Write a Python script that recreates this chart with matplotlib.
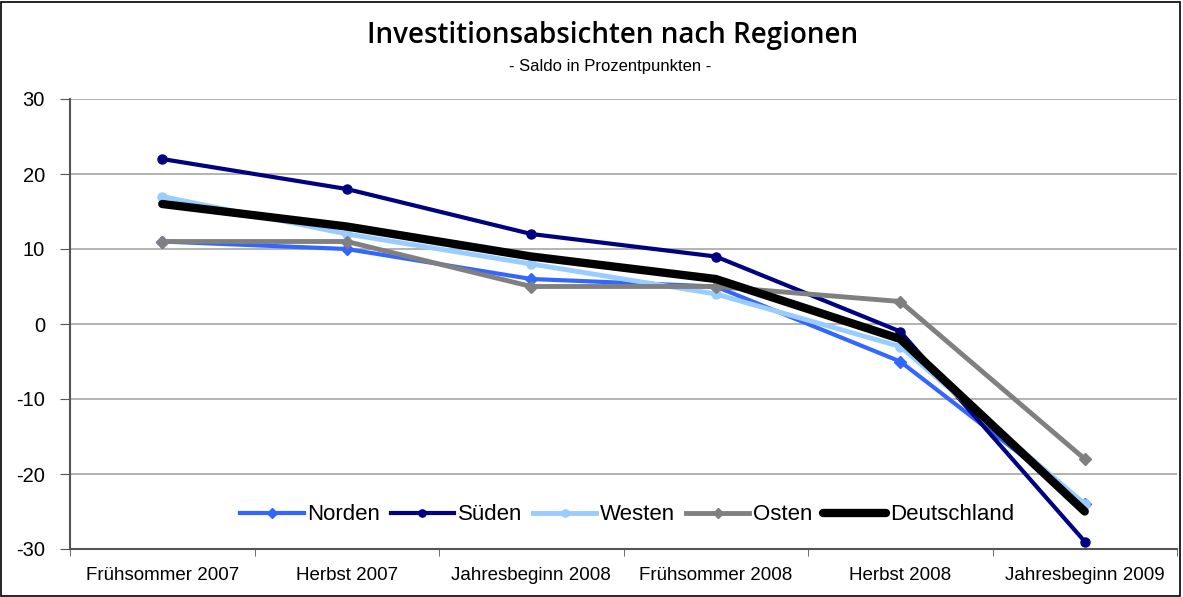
import matplotlib
matplotlib.use("Agg")
import matplotlib.pyplot as plt
from matplotlib.patches import Rectangle

categories = ["Frühsommer 2007", "Herbst 2007", "Jahresbeginn 2008",
              "Frühsommer 2008", "Herbst 2008", "Jahresbeginn 2009"]
norden = [11, 10, 6, 5, -5, -24]
sueden = [22, 18, 12, 9, -1, -29]
westen = [17, 12, 8, 4, -3, -24]
osten = [11, 11, 5, 5, 3, -18]
deutschland = [16, 13, 9, 6, -2, -25]
y_ticks = [-30, -20, -10, 0, 10, 20, 30]

plt.rcParams['font.family'] = ['Liberation Sans', 'DejaVu Sans']

fig = plt.figure(figsize=(11.83, 5.97), dpi=100)
ax = fig.add_axes([70/1183, 48/597, 1107/1183, 450/597])

x = list(range(len(categories)))
ax.plot(x, norden, color='#3366FF', lw=3, marker='D', ms=6, label='Norden', zorder=3)
ax.plot(x, sueden, color='#000080', lw=3, marker='o', ms=6.5, label='Süden', zorder=3)
ax.plot(x, westen, color='#99CCFF', lw=3.5, marker='o', ms=6.5, label='Westen', zorder=3)
ax.plot(x, osten, color='#808080', lw=3.5, marker='D', ms=6, label='Osten', zorder=3)
ax.plot(x, deutschland, color='black', lw=6, solid_capstyle='round', label='Deutschland', zorder=4)

ax.set_xlim(-0.5, len(categories) - 0.5)
ax.set_ylim(-30, 30)
ax.set_yticks(y_ticks)
ax.set_yticklabels([str(v) for v in y_ticks], fontsize=14.5)
ax.yaxis.grid(True, color='#A6A6A6', lw=1.2)
ax.set_axisbelow(True)

ax.set_xticks(x)
ax.set_xticklabels(categories, fontsize=13.5)
ax.tick_params(axis='x', length=0, pad=13)
ax.set_xticks([i - 0.5 for i in range(len(categories) + 1)], minor=True)
ax.tick_params(axis='x', which='minor', length=5, color='#555555', direction='out')
ax.tick_params(axis='y', length=7, color='#555555', direction='out', pad=11)

for s in ['top', 'right']:
    ax.spines[s].set_visible(False)
ax.spines['left'].set_color('#555555')
ax.spines['bottom'].set_color('#555555')
ax.spines['left'].set_linewidth(1.5)
ax.spines['bottom'].set_linewidth(1.5)

leg = ax.legend(loc='center', bbox_to_anchor=(557/1107, (549-515)/450), ncol=5, frameon=False,
                fontsize=16, handlelength=2.85, handletextpad=0.15, columnspacing=0.5,
                markerscale=0.8, borderpad=0)

fig.text(613/1183, 1 - 36/597, "Investitionsabsichten nach Regionen", ha='center', va='center',
         fontsize=20, family=['Open Sans', 'DejaVu Sans'], fontweight='semibold')
fig.text(610/1183, 1 - 67/597, "- Saldo in Prozentpunkten -", ha='center', va='center', fontsize=12)

fig.patches.append(Rectangle((1/1183, 1/597), 1179/1183, 594/597, transform=fig.transFigure,
                             fill=False, edgecolor='black', lw=1.2))

fig.savefig("out.png", dpi=100)
